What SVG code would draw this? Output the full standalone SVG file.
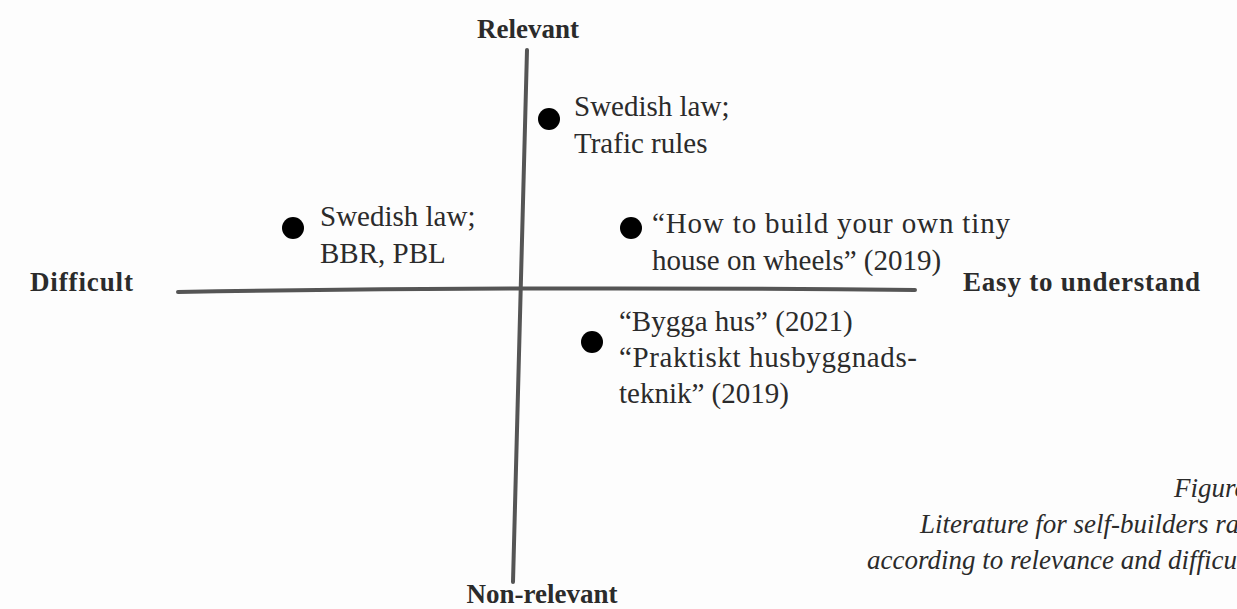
<svg xmlns="http://www.w3.org/2000/svg" width="1237" height="609" viewBox="0 0 1237 609">
  <style>
    .axis { fill: none; stroke: #555555; stroke-width: 4; stroke-linecap: round; }
    .pole { font-family: "Liberation Serif", "DejaVu Serif", serif; font-size: 27px; font-weight: bold; fill: #2b2b2b; }
    .item { font-family: "Liberation Serif", "DejaVu Serif", serif; font-size: 29px; fill: #2b2b2b; }
    .dot { fill: #000000; }
    .caption { font-family: "Liberation Serif", "DejaVu Serif", serif; font-size: 27px; font-style: italic; fill: #2b2b2b; }
  </style>
  <rect width="1237" height="609" fill="#fdfdfd"/>

  <!-- axes -->
  <g id="connectors">
    <path class="axis" d="M527 50 Q521 300 513 582"/>
    <path class="axis" d="M178 292 Q540 286 915 290"/>
  </g>

  <!-- axis pole labels -->
  <g id="pole-relevant"><text class="pole" x="528" y="38" text-anchor="middle">Relevant</text></g>
  <g id="pole-nonrelevant"><text class="pole" x="542" y="603" text-anchor="middle">Non-relevant</text></g>
  <g id="pole-difficult"><text class="pole" x="30" y="291" textLength="103" lengthAdjust="spacing">Difficult</text></g>
  <g id="pole-easy"><text class="pole" x="963" y="291" textLength="237" lengthAdjust="spacing">Easy to understand</text></g>

  <!-- plotted literature -->
  <g id="item-traffic">
    <circle class="dot" cx="549" cy="119" r="11"/>
    <text class="item" x="574" y="116">Swedish law;</text>
    <text class="item" x="574" y="153">Trafic rules</text>
  </g>
  <g id="item-bbr">
    <circle class="dot" cx="293" cy="228" r="11"/>
    <text class="item" x="320" y="226">Swedish law;</text>
    <text class="item" x="320" y="263">BBR, PBL</text>
  </g>
  <g id="item-tinyhouse">
    <circle class="dot" cx="631" cy="228" r="11"/>
    <text class="item" x="652" y="233" textLength="358" lengthAdjust="spacing">“How to build your own tiny</text>
    <text class="item" x="652" y="270">house on wheels” (2019)</text>
  </g>
  <g id="item-bygga">
    <circle class="dot" cx="592" cy="342" r="11"/>
    <text class="item" x="619" y="331">“Bygga hus” (2021)</text>
    <text class="item" x="619" y="367" textLength="298" lengthAdjust="spacing">“Praktiskt husbyggnads-</text>
    <text class="item" x="619" y="403">teknik” (2019)</text>
  </g>

  <!-- caption -->
  <g id="caption">
    <text class="caption" x="1174" y="497">Figure</text>
    <text class="caption" x="920" y="533">Literature for self-builders ra</text>
    <text class="caption" x="867" y="569">according to relevance and difficu</text>
  </g>
</svg>
